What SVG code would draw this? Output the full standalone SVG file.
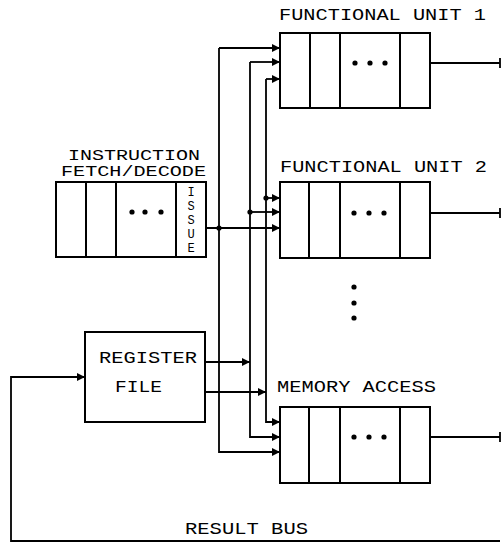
<svg xmlns="http://www.w3.org/2000/svg" width="502" height="544" viewBox="0 0 502 544">
<style>
.bx{fill:none;stroke:#000;stroke-width:2}
.ln{fill:none;stroke:#000;stroke-width:1.8}
.t{font-family:"Liberation Mono","DejaVu Sans Mono",monospace;font-size:17px;fill:#000}
.s{font-size:14px}
.iss{font-size:12px}
</style>
<defs>
<marker id="ah" viewBox="0 0 8 8" refX="8" refY="4" markerWidth="8" markerHeight="8" markerUnits="userSpaceOnUse" orient="auto">
<path d="M0,0 L8,4 L0,8 Z" fill="#000"/>
</marker>
</defs>
<rect width="502" height="544" fill="#fff"/>

<g id="fu1">
<text class="t" x="279" y="20" textLength="207" lengthAdjust="spacingAndGlyphs">FUNCTIONAL UNIT 1</text>
<rect class="bx" x="280" y="33" width="150" height="75"/>
<path class="bx" d="M310,33V108M340,33V108M400,33V108"/>
<circle cx="355" cy="63" r="2.6"/><circle cx="370" cy="63" r="2.6"/><circle cx="385" cy="63" r="2.6"/>
</g>

<g id="fu2">
<text class="t" x="280" y="172" textLength="207" lengthAdjust="spacingAndGlyphs">FUNCTIONAL UNIT 2</text>
<rect class="bx" x="280" y="182" width="150" height="76"/>
<path class="bx" d="M309,182V258M340,182V258M400,182V258"/>
<circle cx="354" cy="213" r="2.6"/><circle cx="369" cy="213" r="2.6"/><circle cx="384" cy="213" r="2.6"/>
</g>

<g id="vdots">
<circle cx="354" cy="287" r="2.6"/><circle cx="354" cy="303" r="2.6"/><circle cx="354" cy="318" r="2.6"/>
</g>

<g id="ma">
<text class="t" x="277" y="392" textLength="159" lengthAdjust="spacingAndGlyphs">MEMORY ACCESS</text>
<rect class="bx" x="280" y="407" width="150" height="76"/>
<path class="bx" d="M309,407V483M340,407V483M400,407V483"/>
<circle cx="354" cy="437" r="2.6"/><circle cx="369" cy="437" r="2.6"/><circle cx="384" cy="437" r="2.6"/>
</g>

<g id="ifd">
<text class="t s" x="68" y="160" textLength="132" lengthAdjust="spacingAndGlyphs">INSTRUCTION</text>
<text class="t s" x="61" y="176" textLength="145" lengthAdjust="spacingAndGlyphs">FETCH/DECODE</text>
<rect class="bx" x="56" y="182" width="150" height="75"/>
<path class="bx" d="M86,182V257M116,182V257M176,182V257"/>
<circle cx="132" cy="212" r="2.6"/><circle cx="145" cy="212" r="2.6"/><circle cx="161" cy="212" r="2.6"/>
<g class="t iss" text-anchor="middle">
<text x="191" y="196">I</text>
<text x="191" y="210">S</text>
<text x="191" y="224">S</text>
<text x="191" y="238">U</text>
<text x="191" y="252">E</text>
</g>
</g>

<g id="rf">
<rect class="bx" x="85" y="332" width="120" height="90"/>
<text class="t" x="99" y="363" textLength="98" lengthAdjust="spacingAndGlyphs">REGISTER</text>
<text class="t" x="115" y="392" textLength="47" lengthAdjust="spacingAndGlyphs">FILE</text>
</g>

<g id="bus">
<text class="t" x="185" y="534" textLength="123" lengthAdjust="spacingAndGlyphs">RESULT BUS</text>
</g>

<g id="connectors">
<path class="ln" d="M219,48H280" marker-end="url(#ah)"/>
<path class="ln" d="M219,48V452H280" marker-end="url(#ah)"/>
<path class="ln" d="M250,62H280" marker-end="url(#ah)"/>
<path class="ln" d="M250,62V437H280" marker-end="url(#ah)"/>
<path class="ln" d="M266,79H280" marker-end="url(#ah)"/>
<path class="ln" d="M266,79V422H280" marker-end="url(#ah)"/>
<path class="ln" d="M266,198H280" marker-end="url(#ah)"/>
<path class="ln" d="M250,212H280" marker-end="url(#ah)"/>
<path class="ln" d="M206,228H280" marker-end="url(#ah)"/>
<circle cx="266" cy="198" r="2.6"/>
<circle cx="250" cy="212" r="2.6"/>
<circle cx="219" cy="228" r="2.6"/>
<path class="ln" d="M205,362H250" marker-end="url(#ah)"/>
<path class="ln" d="M205,392H266" marker-end="url(#ah)"/>
<path class="ln" d="M500,541H11V377H85" marker-end="url(#ah)"/>
<path class="ln" d="M430,63H500M500,58V68"/>
<path class="ln" d="M430,213H500M500,208V218"/>
<path class="ln" d="M430,437H500M500,432V442"/>
</g>
</svg>
